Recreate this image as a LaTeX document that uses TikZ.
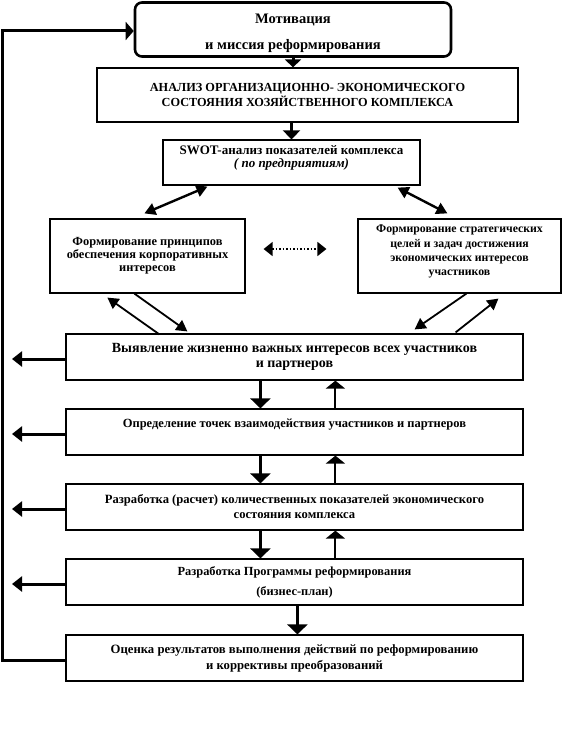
\documentclass[tikz,border=0pt]{standalone}
\usepackage{fontspec}
\setmainfont{Liberation Serif}
\usetikzlibrary{arrows.meta,calc}
\begin{document}
\begin{tikzpicture}[x=1pt,y=-1pt,
  box/.style={draw, line width=1.2pt, inner sep=0pt, align=center},
  bw/.style={minimum width=457pt, minimum height=46pt},
  dn/.style={line width=3pt, -{Triangle[length=10pt,width=20pt]}},
  upa/.style={line width=2pt, -{Triangle[length=8pt,width=19pt]}},
  lf/.style={line width=3pt, -{Triangle[length=10pt,width=15pt]}},
  dg/.style={line width=2.4pt, {Triangle[length=11pt,width=12pt]}-{Triangle[length=11pt,width=12pt]}},
  sg/.style={line width=1.8pt, -{Triangle[length=11pt,width=12pt]}},
  fbl/.style={line width=3pt, line join=miter, -{Triangle[length=8pt,width=18pt]}}
]
\useasboundingbox (0,0) rectangle (564,754);

\node[box, rounded corners=7pt, line width=2.6pt, minimum width=316pt, minimum height=54pt,
  font=\fontsize{14.5}{26}\selectfont\bfseries] (mot) at (293,29.5) {\rule{0pt}{17pt}Мотивация\\и миссия реформирования};

\node[box, minimum width=421pt, minimum height=54pt, font=\fontsize{12.3}{13}\selectfont\bfseries]
  (an) at (307.5,95) {АНАЛИЗ ОРГАНИЗАЦИОННО- ЭКОНОМИЧЕСКОГО\\СОСТОЯНИЯ ХОЗЯЙСТВЕННОГО КОМПЛЕКСА};

\node[box, minimum width=257pt, minimum height=45pt, font=\fontsize{13}{13.5}\selectfont\bfseries]
  (swot) at (291.5,162.5) {SWOT-анализ показателей комплекса\\{\itshape ( по предприятиям)}\\[-1.5pt]\mbox{}};

\node[box, minimum width=195pt, minimum height=74pt, font=\fontsize{12.4}{13}\selectfont\bfseries]
  (L) at (147.5,256) {Формирование принципов\\обеспечения корпоративных\\интересов};

\node[box, minimum width=203pt, minimum height=74pt, font=\fontsize{11.8}{14.3}\selectfont\bfseries]
  (R) at (459.5,256) {Формирование стратегических\\целей и задач достижения\\экономических интересов\\участников\\[-3pt]\mbox{}};

\node[box, bw, font=\fontsize{14}{14.5}\selectfont\bfseries] (B1) at (294.5,357)
  {Выявление жизненно важных интересов всех участников\\и партнеров};
\node[box, bw, font=\fontsize{12.5}{14}\selectfont\bfseries] (B2) at (294.5,432)
  {Определение точек взаимодействия участников и партнеров\\[4pt]\mbox{}};
\node[box, bw, font=\fontsize{12.6}{15}\selectfont\bfseries] (B3) at (294.5,507)
  {Разработка (расчет) количественных показателей экономического\\состояния комплекса};
\node[box, bw, font=\fontsize{12.4}{20}\selectfont\bfseries] (B4) at (294.5,582)
  {Разработка Программы реформирования\\(бизнес-план)};
\node[box, bw, minimum height=46pt, font=\fontsize{12.7}{16}\selectfont\bfseries] (B5) at (294.5,658)
  {Оценка результатов выполнения действий по реформированию\\и коррективы преобразований};

% top arrows
\draw[line width=3pt, -{Triangle[length=8pt,width=16pt]}] (mot.south) -- (mot.south |- an.north);
\draw[line width=3pt, -{Triangle[length=9pt,width=17pt]}] (swot.north |- an.south) -- (swot.north);

% diagonal double arrows
\draw[dg] ($(swot.south west)+(45,1)$) -- ($(L.north west)+(95,-5)$);
\draw[dg] ($(swot.south east)+(-23,2)$) -- ($(R.north west)+(90,-5)$);

% dotted
\draw[line width=1.5pt, dotted, {Triangle[length=9pt,width=14pt]}-{Triangle[length=9pt,width=14pt]}]
  ($(L.east)+(18,-7)$) -- ($(R.west)+(-31,-7)$);

% to / from B1
\draw[sg] ($(L.south west)+(85,0)$) -- ($(B1.north west)+(122,-2)$);
\draw[sg] ($(B1.north west)+(94,1)$) -- ($(L.south west)+(58,4)$);
\draw[sg] ($(R.south west)+(109,0)$) -- ($(B1.north east)+(-109,-4)$);
\draw[sg] ($(B1.north east)+(-68,-1)$) -- ($(R.south west)+(141,5)$);

% vertical arrows
\draw[dn] ($(B1.south west)+(195,0)$) -- ($(B2.north west)+(195,0)$);
\draw[upa] ($(B2.north west)+(270,0)$) -- ($(B1.south west)+(270,0)$);
\draw[dn] ($(B2.south west)+(195,0)$) -- ($(B3.north west)+(195,0)$);
\draw[upa] ($(B3.north west)+(270,0)$) -- ($(B2.south west)+(270,0)$);
\draw[dn] ($(B3.south west)+(195,0)$) -- ($(B4.north west)+(195,0)$);
\draw[upa] ($(B4.north west)+(270,0)$) -- ($(B3.south west)+(270,0)$);
\draw[dn] ($(B4.south west)+(232,0)$) -- ($(B5.north west)+(232,0)$);

% left arrows
\coordinate (o1) at (12,359);
\coordinate (o2) at (12,434);
\coordinate (o3) at (12,509);
\coordinate (o4) at (12,584);
\draw[lf] (B1.west |- o1) -- (o1);
\draw[lf] (B2.west |- o2) -- (o2);
\draw[lf] (B3.west |- o3) -- (o3);
\draw[lf] (B4.west |- o4) -- (o4);

% feedback loop
\coordinate (fbtop) at (2.5,31);
\coordinate (fbbot) at (2.5,660);
\draw[fbl] (B5.west |- fbbot) -- (fbbot) -- (fbtop) -- (mot.west |- fbtop);
\end{tikzpicture}
\end{document}
